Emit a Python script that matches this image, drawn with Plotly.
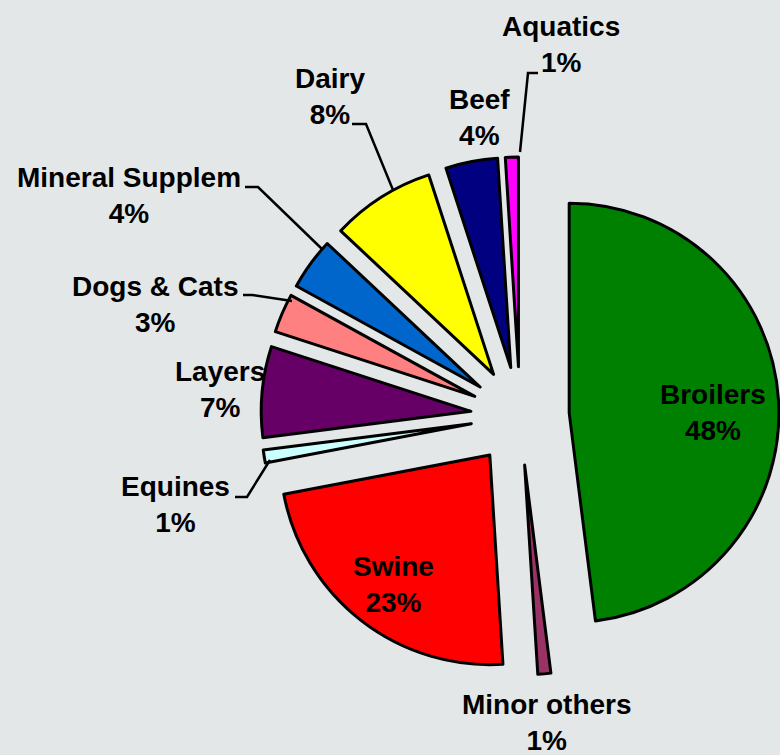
import plotly.graph_objects as go

# ---- data ----
categories = ["Broilers", "Minor others", "Swine", "Equines", "Layers",
              "Dogs & Cats", "Mineral Supplem", "Dairy", "Beef", "Aquatics"]
shares = [48, 1, 23, 1, 7, 3, 4, 8, 4, 1]
slice_colors = ["#008000", "#993366", "#FF0000", "#CCFFFF", "#660066",
                "#FF8080", "#0066CC", "#FFFF00", "#000080", "#FF00FF"]

# ---- layout constants (pixels in a 780x755 canvas) ----
W, H = 780, 755
BG = "#E4E7E8"
PULL = 0.235
CX, CY, HALF = 520, 416, 259

# label centres (x, y) in pixels
label_pos = {
    "Broilers": (713, 412),
    "Minor others": (547, 722),
    "Swine": (393, 584),
    "Equines": (175, 504),
    "Layers": (220, 389),
    "Dogs & Cats": (155, 304),
    "Mineral Supplem": (129, 195),
    "Dairy": (330, 97),
    "Beef": (479, 117),
    "Aquatics": (561, 45),
}

# leader lines (pixel polylines)
leaders = [
    [(538, 73), (528, 73), (520, 152)],      # Aquatics
    [(352, 124), (366, 124), (393, 190)],    # Dairy
    [(245, 187), (258, 187), (322, 249)],    # Mineral Supplem
    [(243, 295), (252, 295), (292, 301)],    # Dogs & Cats
    [(235, 497), (247, 497), (270, 460)],    # Equines
]


def px(x):
    return x / W


def py(y):
    return 1 - y / H


fig = go.Figure()
fig.add_trace(go.Pie(
    labels=categories,
    values=shares,
    sort=False,
    direction="clockwise",
    rotation=0,
    pull=[PULL] * len(shares),
    marker=dict(colors=slice_colors, line=dict(color="black", width=3)),
    textinfo="none",
    hoverinfo="label+percent",
    showlegend=False,
    domain=dict(x=[px(CX - HALF), px(CX + HALF)],
                y=[py(CY + HALF), py(CY - HALF)]),
))

total = sum(shares)
for cat, val in zip(categories, shares):
    x, y = label_pos[cat]
    pct = round(100 * val / total)
    fig.add_annotation(
        x=px(x), y=py(y), xref="paper", yref="paper",
        text=f"<b>{cat}<br>{pct}%</b>",
        showarrow=False, xanchor="center", yanchor="middle",
        font=dict(family="Liberation Sans, Arial, sans-serif", size=28, color="black"),
    )

for pts in leaders:
    path = "M " + " L ".join(f"{px(x)},{py(y)}" for x, y in pts)
    fig.add_shape(type="path", path=path, xref="paper", yref="paper",
                  line=dict(color="black", width=2.5))

fig.update_layout(
    width=W, height=H,
    margin=dict(l=0, r=0, t=0, b=0),
    paper_bgcolor=BG, plot_bgcolor=BG,
)

fig.write_html("out.html")
